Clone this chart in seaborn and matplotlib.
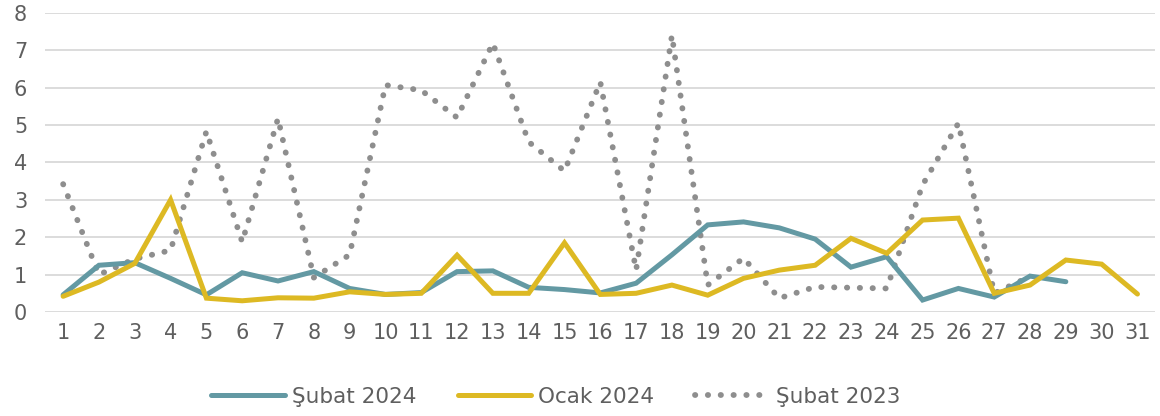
import pandas as pd
import numpy as np
import matplotlib
matplotlib.use("Agg")
import matplotlib.pyplot as plt
import seaborn as sns

# --- data ---
days_feb24 = list(range(1, 30))
subat_2024 = [0.46, 1.25, 1.32, 0.9, 0.46, 1.05, 0.83, 1.08, 0.63, 0.47,
              0.52, 1.08, 1.1, 0.66, 0.6, 0.51, 0.77, 1.53, 2.33, 2.41,
              2.25, 1.95, 1.2, 1.48, 0.32, 0.63, 0.4, 0.96, 0.81]

days_jan24 = list(range(1, 32))
ocak_2024 = [0.42, 0.8, 1.3, 3.0, 0.37, 0.3, 0.38, 0.37, 0.54, 0.47,
             0.5, 1.52, 0.5, 0.5, 1.85, 0.47, 0.5, 0.72, 0.45, 0.9,
             1.12, 1.25, 1.97, 1.57, 2.46, 2.51, 0.5, 0.72, 1.39, 1.28,
             0.48]

days_feb23 = list(range(1, 29))
subat_2023 = [3.42, 1.0, 1.42, 1.65, 4.83, 1.87, 5.18, 0.92, 1.53, 6.07,
              5.93, 5.2, 7.19, 4.55, 3.77, 6.15, 1.12, 7.4, 0.72, 1.44,
              0.37, 0.67, 0.65, 0.63, 3.4, 5.05, 0.5, 0.95]

labels = ["Şubat 2024", "Ocak 2024", "Şubat 2023"]
colors = ["#6399A3", "#DDB923", "#8E8E8E"]

df = pd.concat([
    pd.DataFrame({"day": days_feb24, "value": subat_2024, "series": labels[0]}),
    pd.DataFrame({"day": days_jan24, "value": ocak_2024, "series": labels[1]}),
    pd.DataFrame({"day": days_feb23, "value": subat_2023, "series": labels[2]}),
])

sns.set_theme(style="white")
plt.rcParams["font.family"] = ["DejaVu Sans"]
text_color = "#5F5F5F"
fs = 15

fig = plt.figure(figsize=(11.6, 4.16), dpi=100)
ax = fig.add_axes([0.039, 0.25, 0.957, 0.719])

for name, col in zip(labels, colors):
    sub = df[df["series"] == name]
    if name == labels[2]:
        # dotted series, round caps give the round dots
        sns.lineplot(data=sub, x="day", y="value", ax=ax, color=col,
                     linewidth=4.2, linestyle=(0, (0.05, 2.15)),
                     dash_capstyle="round", label=name, zorder=2)
    else:
        sns.lineplot(data=sub, x="day", y="value", ax=ax, color=col,
                     linewidth=3.6, solid_joinstyle="miter", label=name,
                     zorder=3)

ax.set_xlim(0.5, 31.5)
ax.set_ylim(0, 8)
ax.set_xticks(days_jan24)
ax.set_yticks(range(0, 9))
ax.yaxis.grid(True, color="#D9D9D9", linewidth=1.3)
ax.set_axisbelow(True)
for s in ax.spines.values():
    s.set_visible(False)
ax.tick_params(axis="both", length=0, labelsize=fs, labelcolor=text_color)
ax.tick_params(axis="x", pad=8)
ax.tick_params(axis="y", pad=13)
ax.set_xlabel("")
ax.set_ylabel("")

leg = ax.legend(loc="upper center", bbox_to_anchor=(0.46, -0.185), ncol=3,
                frameon=False, fontsize=15.5, handlelength=3.4,
                handletextpad=0.35, columnspacing=1.9)
for t in leg.get_texts():
    t.set_color(text_color)

fig.savefig("out.png", dpi=100)
